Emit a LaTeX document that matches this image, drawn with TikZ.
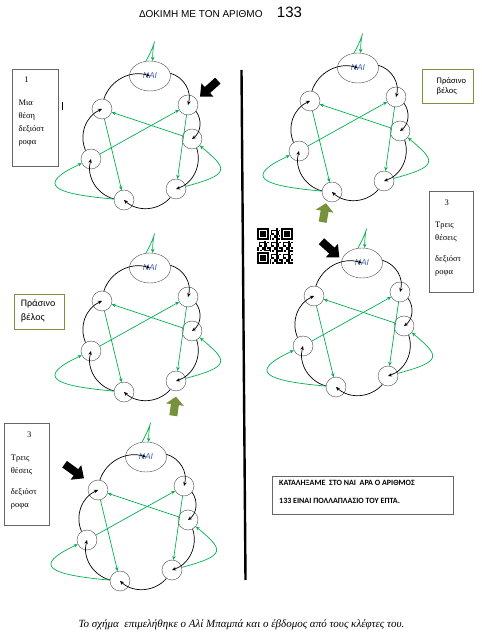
\documentclass[tikz,border=0pt]{standalone}
\usepackage{fontspec}
\setmainfont{Liberation Serif}
\newfontfamily\calfont{Carlito}
\newfontfamily\arialfont{Liberation Sans}
\usetikzlibrary{positioning,shapes.geometric,arrows.meta}

\definecolor{wordgreen}{RGB}{0,176,80}
\definecolor{olivearrow}{RGB}{118,146,60}
\definecolor{naiblue}{RGB}{70,100,170}
\definecolor{boxolive}{RGB}{119,147,60}

\tikzset{
  nai/.style={draw=black!70,ellipse,minimum width=41pt,minimum height=30pt,inner sep=0pt,
    fill=white,font=\arialfont\itshape\fontsize{8.5}{10}\selectfont,text=naiblue},
  slot/.style={draw=black!70,circle,minimum size=20pt,inner sep=0pt,fill=white},
  walk/.style={-{Stealth[length=4pt,width=3.5pt]},line width=0.7pt,black},
  jump/.style={-{Stealth[length=4pt,width=3.5pt]},line width=0.7pt,wordgreen},
  note/.style={draw=black!60,line width=0.6pt,inner sep=0pt,anchor=north west},
  notetext/.style={inner sep=0pt,align=left,font=\fontsize{8.5}{13}\selectfont},
  ring/.pic={
    \node[nai] (-n0) at (0,0) {ΝΑΙ};
    \node[slot] (-n1) at (38,-29) {};
    \node[slot] (-n2) at (42,-63) {};
    \node[slot] (-n3) at (26,-113) {};
    \node[slot] (-n4) at (-26,-124) {};
    \node[slot] (-n5) at (-59,-83) {};
    \node[slot] (-n6) at (-48,-33) {};
    % black: one place clockwise
    \foreach \a/\b in {0/1,1/2,2/3,3/4,4/5,5/6,6/0}
      \draw[walk] (-n\a) to[bend left=45] (-n\b);
    % green arrows
    \foreach \a/\b in {1/3,2/6,5/1,6/4}
      \draw[jump] (-n\a) -- (-n\b);
    \draw[jump] (-n3) to[out=15,in=-40,looseness=2.5] (-n2);
    \draw[jump] (-n4) to[out=175,in=205,looseness=3.4] (-n5);
    \draw[jump] (-n0.105) .. controls +(14,26) and +(0,25) .. (-n0.80);
  },
  bigarrow/.pic={
    \fill[#1] (0,0) -- (-10,9) -- (-10,4) -- (-24,4) -- (-24,-4) -- (-10,-4) -- (-10,-9) -- cycle;
  }
}

\begin{document}
\begin{tikzpicture}[x=1pt,y=1pt]
  \path[use as bounding box,fill=white] (0,0) rectangle (482,640);

  % title
  \node[inner sep=0pt,font=\arialfont\fontsize{10}{11}\selectfont] (title) at (200.8,625.5) {ΔΟΚΙΜΗ ΜΕ ΤΟΝ ΑΡΙΘΜΟ};
  \node[inner sep=0pt,font=\arialfont\fontsize{15}{16}\selectfont,right=14pt of title,yshift=2.5pt] (num) {133};

  % the five rings
  \pic (d1) at (150,564) {ring};
  \pic (d2) at (358,572) {ring};
  \pic (d3) at (150,372) {ring};
  \pic (d4) at (362,377) {ring};
  \pic (d5) at (146,183) {ring};

  % pointers
  \pic[rotate=222] at (200,543.3) {bigarrow=black};
  \pic[rotate=-42] at (339.3,382.7) {bigarrow=black};
  \pic[rotate=-36] at (84,161.7) {bigarrow=black};
  \pic[rotate=80,xscale=0.8] at (326,436.7) {bigarrow=olivearrow};
  \pic[rotate=82,xscale=0.8] at (176,243.3) {bigarrow=olivearrow};

  % divider
  \draw[line width=2.4pt] (241.5,570) -- (245.5,60);
  \draw[line width=0.9pt] (62.7,538) -- (62.7,530);

  % boxes
  \node[note,minimum width=45.6pt,minimum height=96.7pt] (box1) at (12,570.7) {};
  \node[notetext] (box1num) at (26.5,560) {1};
  \node[notetext,below right=30pt and 6.3pt of box1.north west] (box1txt) {Μια\\θέση\\δεξιόστ\\ροφα};

  \node[note,draw=boxolive,minimum width=51pt,minimum height=33.4pt] (green1) at (422,570.7) {};
  \node[notetext,font=\calfont\fontsize{8.5}{10}\selectfont,below right=8.5pt and 14.5pt of green1.north west] (green1txt) {Πράσινο\\βέλος};

  \node[note,minimum width=44.3pt,minimum height=101.3pt] (box3r) at (429,449.3) {};
  \node[notetext] (box3rnum) at (446.7,437.3) {3};
  \node[notetext,below right=31pt and 6pt of box3r.north west] (box3rtxt) {Τρεις\\θέσεις\\[8pt]δεξιόστ\\ροφα};

  \node[note,draw=boxolive,minimum width=50.3pt,minimum height=34.7pt] (green2) at (14,346) {};
  \node[notetext,font=\calfont\fontsize{10}{14.3}\selectfont,below right=5pt and 6.7pt of green2.north west] (green2txt) {Πράσινο\\βέλος};

  \node[note,minimum width=45pt,minimum height=102pt] (box3l) at (4,216.7) {};
  \node[notetext] (box3lnum) at (29.3,205.7) {3};
  \node[notetext,below right=31pt and 6.7pt of box3l.north west] (box3ltxt) {Τρεις\\θέσεις\\[8pt]δεξιόστ\\ροφα};

  \node[note,minimum width=181pt,minimum height=38pt] (endbox) at (272,164) {};
  \node[notetext,font=\calfont\bfseries\fontsize{8}{17.4}\selectfont,below right=4.5pt and 7pt of endbox.north west] (endtxt) {ΚΑΤΑΛΗΞΑΜΕ \ ΣΤΟ ΝΑΙ \ ΑΡΑ Ο ΑΡΙΘΜΟΣ\\133 ΕΙΝΑΙ ΠΟΛΛΑΠΛΑΣΙΟ ΤΟΥ ΕΠΤΑ.};

  % qr code
  \begin{scope}[shift={(257,376)},x=1.714pt,y=1.714pt]
    \foreach \i in {0,...,20}
      \foreach \j in {0,...,20} {
        \pgfmathtruncatemacro\bit{mod(\i*\i*7+\j*\j*3+\i*\j*5+\i+2*\j,7)<3}
        \ifnum\bit=1 \fill (\j,\i) rectangle +(1,1); \fi
      }
    \foreach \cx/\cy in {0/14,14/14,0/0} {
      \fill[white] (\cx-0.5,\cy-0.5) rectangle +(8,8);
      \fill (\cx,\cy) rectangle +(7,7);
      \fill[white] (\cx+1,\cy+1) rectangle +(5,5);
      \fill (\cx+2,\cy+2) rectangle +(3,3);
    }
  \end{scope}

  % credit line
  \node[inner sep=0pt,font=\itshape\fontsize{11}{12}\selectfont] (credit) at (241.5,15) {Το σχήμα \ επιμελήθηκε ο Αλί Μπαμπά και ο έβδομος από τους κλέφτες του.};
\end{tikzpicture}
\end{document}
